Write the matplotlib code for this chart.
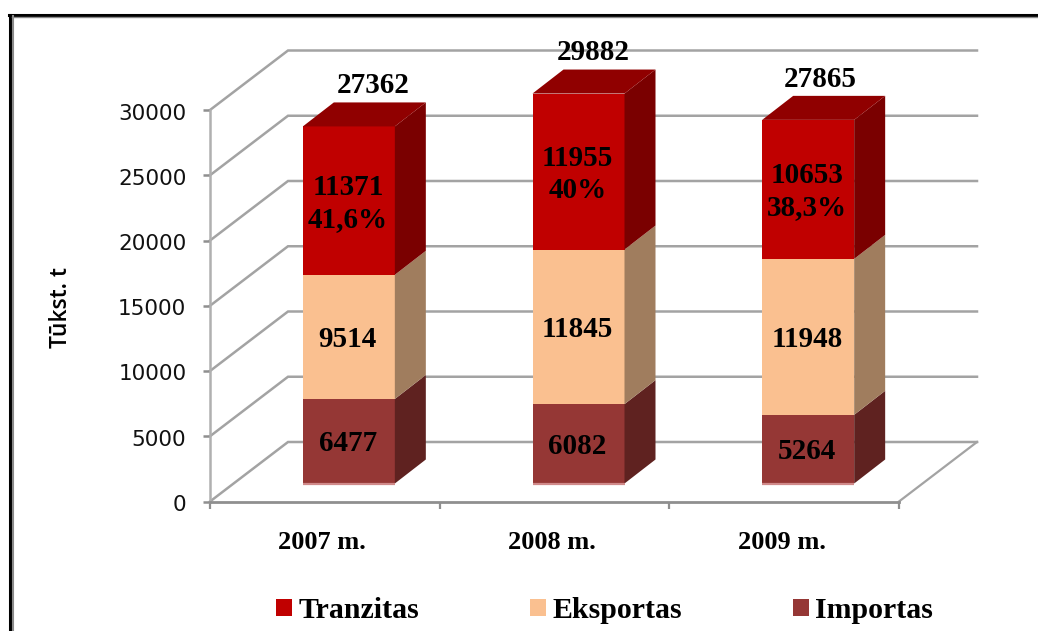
import matplotlib
matplotlib.use("Agg")
import matplotlib.pyplot as plt
from matplotlib.patches import Patch, Polygon
from matplotlib.lines import Line2D
from matplotlib.transforms import ScaledTranslation

years = ["2007 m.", "2008 m.", "2009 m."]
series_names = ["Tranzitas", "Eksportas", "Importas"]
importas = [6477, 6082, 5264]
eksportas = [9514, 11845, 11948]
tranzitas = [11371, 11955, 10653]
totals = [27362, 29882, 27865]
shares = ["41,6%", "40%", "38,3%"]
y_ticks = [0, 5000, 10000, 15000, 20000, 25000, 30000]

W, H = 1038, 631
SERIF = "Liberation Serif"
GRID = "#a3a3a3"

# front colour, side colour for each stacked part
import_cols = ("#953735", "#5f2220")
export_cols = ("#fac090", "#a07d5e")
transit_cols = ("#c00000", "#7a0000")
top_col = "#900000"

fig = plt.figure(figsize=(W / 100, H / 100), dpi=100)
ax = fig.add_axes([210 / W, 1 - 501.5 / H, 689 / W, 391.5 / H])
ax.set_xlim(0, 3)
ax.set_ylim(0, 30000)
ax.patch.set_alpha(0)

# px -> data sizes of the fake 3d
px_x = 3 / 689
px_y = 30000 / 391.5
wall_dx, wall_dy = 78 * px_x, 59.5 * px_y
bar_w = 92 * px_x
off_x, off_y = 24 * px_x, 18 * px_y
dep_x, dep_y = 31 * px_x, 24 * px_y

# walls
for t in y_ticks:
    ax.plot([0, wall_dx, 3 + wall_dx], [t, t + wall_dy, t + wall_dy], color=GRID, lw=1.8,
            clip_on=False, zorder=1, solid_joinstyle="miter")
ax.plot([3, 3 + wall_dx], [0, wall_dy], color=GRID, lw=1.6, clip_on=False, zorder=1)


def draw_part(x, bottom, height, cols, z):
    left = x + off_x - bar_w / 2
    right = left + bar_w
    b = bottom + off_y
    ax.bar(left, height, width=bar_w, bottom=b, align="edge", color=cols[0], zorder=z, clip_on=False)
    side = [(right, b), (right + dep_x, b + dep_y), (right + dep_x, b + height + dep_y), (right, b + height)]
    ax.add_patch(Polygon(side, closed=True, facecolor=cols[1], edgecolor="none", zorder=z, clip_on=False))


for i in range(3):
    x = i + 0.5
    left = x + off_x - bar_w / 2
    draw_part(x, 0, importas[i], import_cols, 3)
    draw_part(x, importas[i], eksportas[i], export_cols, 3)
    draw_part(x, importas[i] + eksportas[i], tranzitas[i], transit_cols, 3)

    top = totals[i] + off_y
    ax.add_patch(Polygon([(left, top), (left + bar_w, top), (left + bar_w + dep_x, top + dep_y),
                          (left + dep_x, top + dep_y)], closed=True, facecolor=top_col,
                         edgecolor="none", zorder=3, clip_on=False))
    ax.plot([left, left + bar_w], [off_y, off_y], color="#d08a8a", lw=1.6, zorder=4,
            solid_capstyle="butt", clip_on=False)

    # value labels
    cx = x + off_x - 1 * px_x
    font = dict(family=SERIF, weight="bold", fontsize=21, ha="center", va="center", color="black", zorder=5)
    low = -2.5 * px_y
    ax.text(cx, off_y + importas[i] / 2 + low, str(importas[i]), **font)
    ax.text(cx, off_y + importas[i] + eksportas[i] / 2 + low, str(eksportas[i]), **font)
    mid = off_y + importas[i] + eksportas[i] + tranzitas[i] / 2 + low
    ax.text(cx, mid + 16 * px_y, str(tranzitas[i]), **font)
    ax.text(cx, mid - 16 * px_y, shares[i], **font)

# totals sit by hand over the tops in the original
for i, nudge in enumerate([0, -10, -12]):
    ax.annotate(str(totals[i]), (i + 0.5 + off_x + dep_x / 2, totals[i] + off_y + dep_y),
                xytext=(nudge * 0.72 + 9 * 0.72, 12), textcoords="offset points", family=SERIF, weight="bold",
                fontsize=21, ha="center", va="center", color="black", annotation_clip=False)

# axes
for name in ["top", "right"]:
    ax.spines[name].set_visible(False)
ax.spines["left"].set_color("#b0b0b0")
ax.spines["left"].set_linewidth(1.8)
ax.spines["bottom"].set_color("#8f8f8f")
ax.spines["bottom"].set_linewidth(2)
ax.set_yticks(y_ticks)
ax.set_xticks([0, 1, 2, 3])
ax.set_xticklabels([])
ax.set_xticks([0.5, 1.5, 2.5], minor=True)
ax.set_xticklabels(years, minor=True, family=SERIF, weight="bold", fontsize=19)
ax.tick_params(axis="y", length=5, width=1.8, color="#8f8f8f", pad=12, labelsize=15.5, labelcolor="#111111")
ax.tick_params(axis="x", which="major", length=5, width=1.6, color="#8f8f8f")
ax.tick_params(axis="x", which="minor", length=0, pad=21.5)
fig.canvas.draw()
for lab in ax.get_yticklabels():
    lab.set_transform(lab.get_transform() + ScaledTranslation(0, -1.5 / 100, fig.dpi_scale_trans))
for lab in ax.get_xticklabels(minor=True):
    lab.set_transform(lab.get_transform() + ScaledTranslation(-2.5 / 100, 0, fig.dpi_scale_trans))

fig.text(61 / W, 1 - 308 / H, "Tūkst. t", rotation=90, ha="center", va="center",
         family="Open Sans", weight="semibold", fontsize=16.5, color="black")

# legend
handles = [Patch(facecolor=transit_cols[0]), Patch(facecolor=export_cols[0]), Patch(facecolor=import_cols[0])]
fig.legend(handles, series_names, ncol=3, frameon=False, loc="center left",
           bbox_to_anchor=(276 / W, 1 - 610.5 / H), prop=dict(family=SERIF, weight="bold", size=21.5),
           handlelength=0.54, handleheight=0.54, handletextpad=0.2, columnspacing=3.73, borderpad=0, borderaxespad=0)

# picture frame, open on right and bottom
fig.add_artist(Line2D([10 / W, 10 / W], [0, 1 - 15 / H], color="black", lw=2.2))
fig.add_artist(Line2D([9 / W, 1], [1 - 14.5 / H, 1 - 14.5 / H], color="black", lw=2.2))
fig.add_artist(Line2D([12.5 / W, 12.5 / W], [0, 1 - 16 / H], color="#8a8a8a", lw=1.5))
fig.add_artist(Line2D([12 / W, 1], [1 - 16.7 / H, 1 - 16.7 / H], color="#8a8a8a", lw=1.0))

fig.savefig("out.png", dpi=100)
